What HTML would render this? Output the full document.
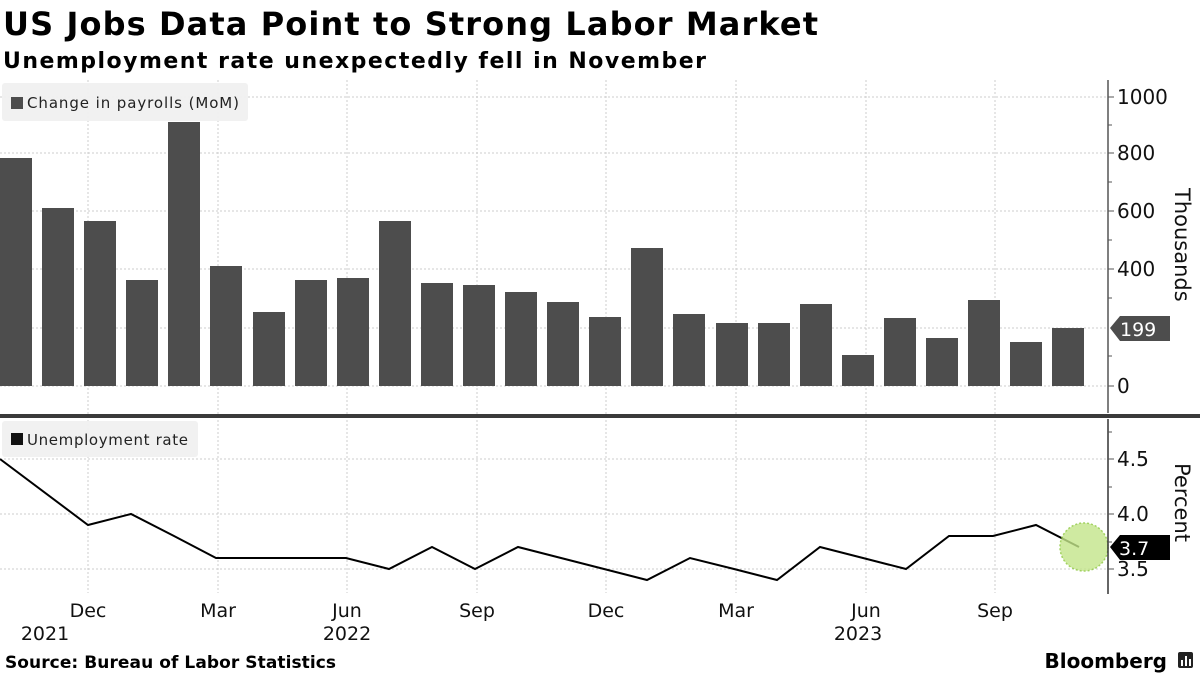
<!DOCTYPE html>
<html><head><meta charset="utf-8"><style>
body{margin:0;background:#fff;}
svg{display:block;font-family:"DejaVu Sans","Liberation Sans",sans-serif;}
</style></head><body>
<svg width="1200" height="675" viewBox="0 0 1200 675">
<text x="3" y="35" font-family="DejaVu Sans" font-weight="bold" font-size="32" fill="#000" textLength="815" lengthAdjust="spacing">US Jobs Data Point to Strong Labor Market</text>
<text x="3" y="68" font-family="DejaVu Sans" font-weight="bold" font-size="22" fill="#000" textLength="703" lengthAdjust="spacing">Unemployment rate unexpectedly fell in November</text>
<g stroke="#ccc" stroke-dasharray="2,2" stroke-width="1">
<line x1="0" y1="97" x2="1108" y2="97"/><line x1="0" y1="153" x2="1108" y2="153"/><line x1="0" y1="211" x2="1108" y2="211"/><line x1="0" y1="269" x2="1108" y2="269"/><line x1="0" y1="328" x2="1108" y2="328"/><line x1="0" y1="386" x2="1108" y2="386"/>
<line x1="0" y1="459" x2="1108" y2="459"/><line x1="0" y1="514" x2="1108" y2="514"/><line x1="0" y1="569" x2="1108" y2="569"/>
<line x1="88" y1="80" x2="88" y2="593"/><line x1="218" y1="80" x2="218" y2="593"/><line x1="347" y1="80" x2="347" y2="593"/><line x1="477" y1="80" x2="477" y2="593"/><line x1="606" y1="80" x2="606" y2="593"/><line x1="736" y1="80" x2="736" y2="593"/><line x1="866" y1="80" x2="866" y2="593"/><line x1="995" y1="80" x2="995" y2="593"/>
</g>
<g fill="#4d4d4d">
<rect x="0" y="158" width="32" height="228"/>
<rect x="42" y="208" width="32" height="178"/>
<rect x="84" y="221" width="32" height="165"/>
<rect x="126" y="280" width="32" height="106"/>
<rect x="168" y="122" width="32" height="264"/>
<rect x="210" y="266" width="32" height="120"/>
<rect x="253" y="312" width="32" height="74"/>
<rect x="295" y="280" width="32" height="106"/>
<rect x="337" y="278" width="32" height="108"/>
<rect x="379" y="221" width="32" height="165"/>
<rect x="421" y="283" width="32" height="103"/>
<rect x="463" y="285" width="32" height="101"/>
<rect x="505" y="292" width="32" height="94"/>
<rect x="547" y="302" width="32" height="84"/>
<rect x="589" y="317" width="32" height="69"/>
<rect x="631" y="248" width="32" height="138"/>
<rect x="673" y="314" width="32" height="72"/>
<rect x="716" y="323" width="32" height="63"/>
<rect x="758" y="323" width="32" height="63"/>
<rect x="800" y="304" width="32" height="82"/>
<rect x="842" y="355" width="32" height="31"/>
<rect x="884" y="318" width="32" height="68"/>
<rect x="926" y="338" width="32" height="48"/>
<rect x="968" y="300" width="32" height="86"/>
<rect x="1010" y="342" width="32" height="44"/>
<rect x="1052" y="328" width="32" height="58"/>
</g>
<rect x="2" y="83" width="246" height="38" rx="3" fill="#f0f0f0" opacity="0.95"/>
<rect x="11" y="97" width="12" height="12" fill="#4d4d4d"/>
<text x="27" y="108" font-size="15" fill="#222" textLength="212" lengthAdjust="spacing">Change in payrolls (MoM)</text>
<rect x="0" y="414" width="1200" height="4" fill="#3a3a3a"/>
<rect x="2" y="421" width="196" height="36" rx="3" fill="#f0f0f0" opacity="0.95"/>
<rect x="11" y="433" width="12" height="12" fill="#111"/>
<text x="27" y="445" font-size="15" fill="#222" textLength="161" lengthAdjust="spacing">Unemployment rate</text>
<polyline fill="none" stroke="#000" stroke-width="2" points="0,459 88,525 131,514 174,536 216,558 259,558 302,558 346,558 389,569 432,547 475,569 518,547 561,558 604,569 647,580 690,558 734,569 777,580 820,547 863,558 906,569 949,536 993,536 1036,525 1079,547"/>
<circle cx="1084" cy="547" r="24" fill="#c4e68a" opacity="0.8" stroke="#8cc83c" stroke-width="1.5" stroke-dasharray="2,2"/>
<line x1="1108" y1="80" x2="1108" y2="413" stroke="#555" stroke-width="1.5"/>
<line x1="1108" y1="419" x2="1108" y2="594" stroke="#333" stroke-width="1.5"/>
<g stroke="#555" stroke-width="1">
<line x1="1108" y1="97" x2="1114" y2="97"/><line x1="1108" y1="153" x2="1114" y2="153"/><line x1="1108" y1="211" x2="1114" y2="211"/><line x1="1108" y1="269" x2="1114" y2="269"/><line x1="1108" y1="386" x2="1114" y2="386"/>
<line x1="1108" y1="125" x2="1112" y2="125"/><line x1="1108" y1="182" x2="1112" y2="182"/><line x1="1108" y1="240" x2="1112" y2="240"/><line x1="1108" y1="298" x2="1112" y2="298"/><line x1="1108" y1="356" x2="1112" y2="356"/>
<line x1="1108" y1="459" x2="1114" y2="459"/><line x1="1108" y1="514" x2="1114" y2="514"/><line x1="1108" y1="569" x2="1114" y2="569"/>
<line x1="1108" y1="432" x2="1112" y2="432"/><line x1="1108" y1="487" x2="1112" y2="487"/><line x1="1108" y1="542" x2="1112" y2="542"/>
</g>
<g font-size="20" fill="#111">
<text x="1117" y="104">1000</text><text x="1117" y="160">800</text><text x="1117" y="218">600</text><text x="1117" y="276">400</text><text x="1117" y="393">0</text>
<text x="1117" y="466">4.5</text><text x="1117" y="521">4.0</text><text x="1117" y="576">3.5</text>
</g>
<polygon points="1110,328 1120,316 1170,316 1170,341 1120,341" fill="#4d4d4d"/>
<text x="1120" y="336" font-size="19" fill="#fff">199</text>
<polygon points="1110,547 1120,535 1170,535 1170,560 1120,560" fill="#000"/>
<text x="1119" y="555" font-size="19" fill="#fff">3.7</text>
<text transform="translate(1175,188) rotate(90)" font-size="21" fill="#111">Thousands</text>
<text transform="translate(1175,463) rotate(90)" font-size="21" fill="#111">Percent</text>
<g font-size="19" fill="#111" text-anchor="middle">
<text x="88" y="617">Dec</text><text x="218" y="617">Mar</text><text x="347" y="617">Jun</text><text x="477" y="617">Sep</text><text x="606" y="617">Dec</text><text x="736" y="617">Mar</text><text x="866" y="617">Jun</text><text x="995" y="617">Sep</text>
<text x="45" y="640">2021</text><text x="347" y="640">2022</text><text x="858" y="640">2023</text>
</g>
<text x="5" y="668" font-family="DejaVu Sans" font-weight="bold" font-size="17" fill="#000" textLength="331" lengthAdjust="spacing">Source: Bureau of Labor Statistics</text>
<text x="1167" y="668" text-anchor="end" font-family="DejaVu Sans" font-weight="bold" font-size="20" fill="#000">Bloomberg</text>
<rect x="1178" y="652" width="15" height="16" rx="2" fill="#222"/>
<g fill="#fff"><rect x="1181" y="660" width="2" height="6"/><rect x="1185" y="656" width="2" height="10"/><rect x="1189" y="659" width="2" height="7"/></g>
</svg>
</body></html>
